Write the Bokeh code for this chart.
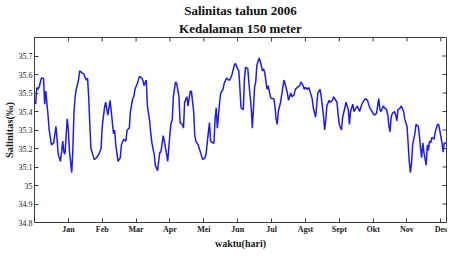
from bokeh.plotting import figure
from bokeh.models import FixedTicker, Title, Range1d
from bokeh.embed import file_html
from bokeh.resources import INLINE
import numpy as np

# day of year
hari = [1, 2, 3, 4, 6, 8, 9, 10, 12, 13, 15, 17, 19, 20, 21, 23, 24, 25, 26, 27,
        29, 30, 31, 33, 34, 35, 36, 37, 39, 40, 42, 44, 45, 46, 47, 48, 49, 50, 52, 53,
        55, 57, 59, 60, 62, 63, 65, 67, 68, 70, 71, 72, 74, 76, 77, 79, 81, 82, 84, 85,
        87, 88, 89, 91, 93, 95, 96, 97, 99, 100, 102, 103, 104, 106, 107, 109, 111, 112, 114, 115,
        117, 118, 120, 121, 122, 123, 125, 126, 128, 129, 131, 132, 133, 135, 136, 138, 139, 141, 142, 143,
        145, 146, 148, 149, 151, 152, 153, 155, 156, 158, 159, 160, 161, 162, 164, 165, 167, 168, 170, 172,
        173, 175, 177, 178, 180, 181, 182, 183, 185, 186, 187, 189, 190, 192, 193, 194, 195, 196, 197, 199,
        200, 202, 203, 204, 206, 207, 209, 210, 212, 213, 214, 215, 216, 218, 220, 221, 222, 224, 225, 227,
        228, 230, 231, 233, 235, 236, 238, 239, 240, 242, 243, 244, 246, 247, 249, 250, 251, 253, 254, 256,
        257, 258, 259, 261, 262, 264, 265, 266, 268, 269, 270, 272, 273, 275, 276, 278, 279, 280, 282, 283,
        285, 286, 288, 289, 290, 292, 293, 295, 296, 297, 299, 300, 301, 303, 304, 305, 306, 307, 309, 310,
        312, 313, 314, 315, 316, 317, 319, 320, 321, 322, 324, 325, 327, 328, 330, 331, 332, 333, 334, 335,
        337, 338, 340, 341, 342, 343, 344, 345, 347, 348, 349, 350, 351, 352, 354, 355, 357, 358, 359, 361,
        362, 363, 365]

# salinity (per mil)
salinitas = [35.44, 35.53, 35.52, 35.53, 35.58, 35.58, 35.44, 35.51, 35.38, 35.30, 35.22, 35.23, 35.32, 35.25, 35.17, 35.13, 35.18, 35.24, 35.18, 35.17,
             35.36, 35.30, 35.18, 35.07, 35.20, 35.40, 35.48, 35.52, 35.57, 35.62, 35.61, 35.60, 35.58, 35.57, 35.58, 35.48, 35.33, 35.20, 35.16, 35.14,
             35.15, 35.17, 35.20, 35.32, 35.42, 35.45, 35.38, 35.46, 35.40, 35.28, 35.30, 35.22, 35.13, 35.15, 35.22, 35.25, 35.24, 35.30, 35.31, 35.40,
             35.47, 35.48, 35.52, 35.55, 35.59, 35.58, 35.57, 35.54, 35.57, 35.43, 35.35, 35.28, 35.23, 35.17, 35.11, 35.08, 35.18, 35.18, 35.27, 35.24,
             35.17, 35.13, 35.28, 35.34, 35.35, 35.48, 35.56, 35.55, 35.48, 35.34, 35.33, 35.31, 35.45, 35.48, 35.43, 35.51, 35.51, 35.40, 35.27, 35.24,
             35.22, 35.20, 35.16, 35.14, 35.15, 35.17, 35.23, 35.34, 35.24, 35.23, 35.23, 35.36, 35.42, 35.31, 35.45, 35.50, 35.52, 35.55, 35.58, 35.57,
             35.57, 35.60, 35.65, 35.66, 35.63, 35.62, 35.52, 35.42, 35.41, 35.58, 35.64, 35.63, 35.55, 35.42, 35.31, 35.42, 35.53, 35.56, 35.65, 35.69,
             35.67, 35.62, 35.63, 35.61, 35.52, 35.54, 35.48, 35.47, 35.47, 35.43, 35.36, 35.33, 35.40, 35.45, 35.53, 35.57, 35.55, 35.50, 35.46, 35.50,
             35.48, 35.49, 35.52, 35.53, 35.54, 35.56, 35.54, 35.52, 35.53, 35.52, 35.53, 35.51, 35.47, 35.42, 35.37, 35.43, 35.50, 35.52, 35.48, 35.38,
             35.30, 35.35, 35.43, 35.46, 35.45, 35.46, 35.48, 35.47, 35.45, 35.38, 35.33, 35.30, 35.37, 35.42, 35.45, 35.41, 35.33, 35.40, 35.44, 35.40,
             35.42, 35.43, 35.40, 35.42, 35.44, 35.46, 35.47, 35.46, 35.44, 35.42, 35.40, 35.39, 35.38, 35.39, 35.43, 35.47, 35.41, 35.40, 35.43, 35.42,
             35.41, 35.38, 35.32, 35.29, 35.37, 35.39, 35.40, 35.38, 35.35, 35.41, 35.42, 35.43, 35.40, 35.36, 35.32, 35.23, 35.13, 35.07, 35.12, 35.22,
             35.28, 35.33, 35.32, 35.27, 35.20, 35.15, 35.23, 35.18, 35.11, 35.22, 35.19, 35.24, 35.23, 35.26, 35.25, 35.29, 35.33, 35.33, 35.30, 35.23,
             35.18, 35.23, 35.23]

bulan_pos = [30, 60, 90, 120, 150, 180, 210, 240, 270, 300, 330, 360]
bulan = ["Jan", "Feb", "Mar", "Apr", "Mei", "Jun", "Jul", "Agst", "Sept", "Okt", "Nov", "Des"]
y_ticks = [34.8, 34.9, 35.0, 35.1, 35.2, 35.3, 35.4, 35.5, 35.6, 35.7]
y_labels = ["34.8", "34.9", "35", "35.1", "35.2", "35.3", "35.4", "35.5", "35.6", "35.7"]
x_min, x_max = 0, 365
y_min, y_max = 34.8, 35.8

FONT = "Liberation Serif"
AX = "#3a3a3a"

p = figure(width=448, height=251, output_backend="svg", toolbar_location=None,
           x_range=Range1d(x_min, x_max), y_range=Range1d(y_min, y_max),
           min_border_left=26, min_border_right=2, min_border_top=0, min_border_bottom=0,
           background_fill_color="white", border_fill_color="white")
p.grid.visible = False
p.outline_line_color = AX
p.outline_line_width = 1

p.line(hari, salinitas, line_color="#1c1cf0", line_width=1.5)

# MATLAB-style inward ticks on the top and right edges of the box
p.scatter(bulan_pos, [y_max] * len(bulan_pos), marker="dash", angle=np.pi / 2,
          size=8, line_color=AX, line_width=1)
p.scatter([x_max] * len(y_ticks), y_ticks, marker="dash",
          size=8, line_color=AX, line_width=1)

def style(ax):
    ax.axis_line_color = AX
    ax.major_tick_line_color = AX
    ax.major_tick_in = 4
    ax.major_tick_out = 0
    ax.minor_tick_line_color = None
    ax.major_label_text_font = FONT
    ax.major_label_text_font_size = "8px"
    ax.major_label_text_color = "#1a1a1a"
    ax.major_label_standoff = 2

xa = p.xaxis[0]
xa.ticker = FixedTicker(ticks=bulan_pos)
xa.major_label_overrides = dict(zip(bulan_pos, bulan))
style(xa)
xa.major_label_text_font_style = "bold"
xa.axis_label = "waktu(hari)"
xa.axis_label_text_font = FONT
xa.axis_label_text_font_style = "bold"
xa.axis_label_text_font_size = "10px"
xa.axis_label_text_color = "#1a1a1a"
xa.axis_label_standoff = 1

ya = p.yaxis[0]
ya.ticker = FixedTicker(ticks=y_ticks)
ya.major_label_overrides = dict(zip(y_ticks, y_labels))
style(ya)
ya.axis_label = "Salinitas(‰)"
ya.axis_label_text_font = FONT
ya.axis_label_text_font_style = "bold"
ya.axis_label_text_font_size = "10.5px"
ya.axis_label_text_color = "#1a1a1a"
ya.axis_label_standoff = 1

sub = Title(text="Kedalaman 150 meter", align="center", text_font=FONT,
            text_font_style="bold", text_font_size="13px", text_color="#111111", standoff=3)
main = Title(text="Salinitas tahun 2006", align="center", text_font=FONT,
             text_font_style="bold", text_font_size="13px", text_color="#111111", standoff=0)
p.add_layout(sub, "above")
p.add_layout(main, "above")

open("out.html", "w").write(file_html(p, INLINE))
